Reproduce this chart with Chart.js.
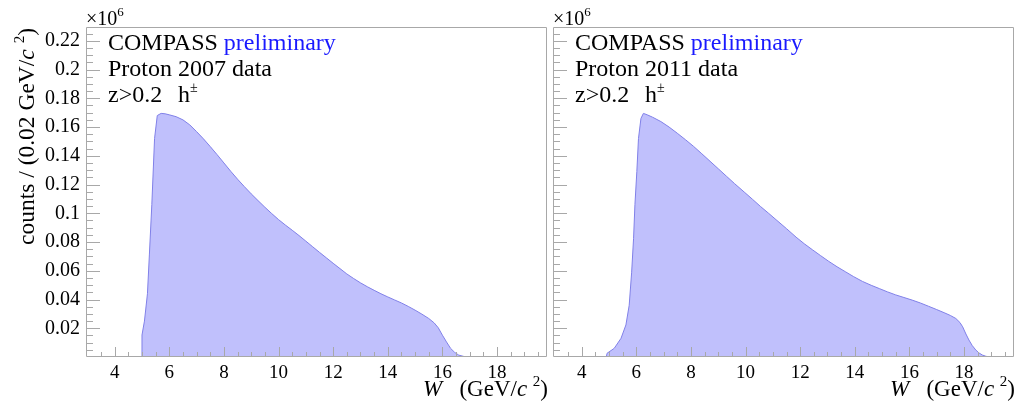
<!DOCTYPE html>
<html>
<head>
<meta charset="utf-8">
<script src="https://cdn.jsdelivr.net/npm/chart.js@4.4.1/dist/chart.umd.min.js"></script>
<style>
  html, body { margin: 0; padding: 0; background: #ffffff; }
  #wrap { position: relative; width: 1019px; height: 410px; }
  canvas { position: absolute; top: 0; }
  #c2007 { left: 0; }
  #c2011 { left: 550px; }
</style>
</head>
<body>
<div id="wrap">
  <canvas id="c2007" width="550" height="410"></canvas>
  <canvas id="c2011" width="469" height="410"></canvas>
</div>
<script>
// W (GeV/c^2) and counts per 0.02 GeV/c^2 bin, in units of 10^6
const w2007 = [4.98, 5.0, 5.09, 5.2, 5.27, 5.36, 5.46, 5.56, 5.7, 5.85, 6.0, 6.25, 6.5, 6.75,
  7.0, 7.25, 7.5, 7.75, 8.0, 8.25, 8.5, 8.75, 9.0, 9.25, 9.5, 9.75, 10.0, 10.25, 10.5, 10.75,
  11.0, 11.25, 11.5, 11.75, 12.0, 12.25, 12.5, 12.75, 13.0, 13.25, 13.5, 13.75, 14.0, 14.25,
  14.5, 14.75, 15.0, 15.25, 15.5, 15.7, 15.85, 16.0, 16.15, 16.3, 16.45, 16.6, 16.8, 17.0];
const counts2007 = [0.0, 0.0153, 0.025, 0.044, 0.071, 0.106, 0.152, 0.168, 0.1695, 0.1692, 0.1685, 0.1672, 0.1650, 0.1615,
  0.1568, 0.1518, 0.1464, 0.1408, 0.1350, 0.1292, 0.1237, 0.1185, 0.1135, 0.1088, 0.1042, 0.0998, 0.0956, 0.0918, 0.0882, 0.0845,
  0.0806, 0.0767, 0.0728, 0.0690, 0.0652, 0.0615, 0.0578, 0.0546, 0.0516, 0.0489, 0.0464, 0.0440, 0.0418, 0.0397,
  0.0376, 0.0352, 0.0326, 0.0298, 0.0268, 0.0237, 0.0203, 0.0152, 0.0105, 0.0060, 0.0032, 0.0013, 0.0003, 0.0];

const w2011 = [4.9, 4.93, 5.19, 5.44, 5.62, 5.74, 5.83, 5.90, 5.95, 6.02, 6.08, 6.17, 6.26, 6.4, 6.6, 6.9,
  7.2, 7.5, 7.8, 8.1, 8.4, 8.7, 9.0, 9.3, 9.6, 9.95, 10.25, 10.55, 10.85, 11.15, 11.5, 11.85,
  12.15, 12.45, 12.75, 13.05, 13.35, 13.65, 13.95, 14.28, 14.6, 14.9, 15.2, 15.5, 15.8, 16.1,
  16.4, 16.7, 17.0, 17.3, 17.5, 17.7, 17.85, 17.95, 18.07, 18.18, 18.3, 18.43, 18.55, 18.67, 18.8, 18.95];
const counts2011 = [0.0, 0.0026, 0.006, 0.013, 0.0223, 0.036, 0.059, 0.0826, 0.106, 0.129, 0.152, 0.166, 0.1695, 0.1685, 0.1668, 0.1638,
  0.1600, 0.1557, 0.1512, 0.1465, 0.1414, 0.1362, 0.1310, 0.1258, 0.1206, 0.1148, 0.1098, 0.1047, 0.0999, 0.0950, 0.0893, 0.0834,
  0.0788, 0.0746, 0.0705, 0.0665, 0.0628, 0.0594, 0.0560, 0.0526, 0.0499, 0.0476, 0.0453, 0.0432, 0.0414, 0.0396,
  0.0376, 0.0353, 0.0330, 0.0306, 0.0289, 0.0268, 0.0240, 0.0210, 0.0160, 0.0118, 0.0080, 0.0049, 0.0028, 0.0014, 0.0005, 0.0];

const xTickValues = [4, 6, 8, 10, 12, 14, 16, 18];
const xTickLabels = ['4', '6', '8', '10', '12', '14', '16', '18'];
const yTickValues = [0.02, 0.04, 0.06, 0.08, 0.1, 0.12, 0.14, 0.16, 0.18, 0.2, 0.22];
const yTickLabels = ['0.02', '0.04', '0.06', '0.08', '0.1', '0.12', '0.14', '0.16', '0.18', '0.2', '0.22'];

const X_MIN = 2.95, X_MAX = 19.83;
const Y_MIN = 0, Y_MAX = 0.2296;

const SERIF = '"Liberation Serif", "Times New Roman", serif';
const FILL = 'rgb(192, 192, 252)';
const EDGE = 'rgb(128, 128, 232)';
const AXIS = '#a8a8a8';
const BLUE = '#1a1aff';

// draw a row of text runs (plain / italic / superscript), left or right aligned
function drawRuns(ctx, runs, x, y, align, baseSize) {
  const parts = runs.map(r => {
    const size = r.size || (r.sup ? 14 : baseSize);
    const font = (r.italic ? 'italic ' : '') + size + 'px ' + SERIF;
    ctx.font = font;
    return { r, font, w: ctx.measureText(r.t).width };
  });
  const total = parts.reduce((s, p) => s + p.w, 0);
  let cx = align === 'right' ? x - total : x;
  ctx.textAlign = 'left';
  ctx.textBaseline = 'alphabetic';
  for (const p of parts) {
    ctx.font = p.font;
    ctx.fillStyle = p.r.color || '#000';
    ctx.fillText(p.r.t, cx, y - (p.r.sup ? (p.r.raise || 10) : 0));
    cx += p.w;
  }
}

const decor = {
  id: 'decor',
  afterDraw(chart, args, opts) {
    const { ctx, chartArea: a, scales } = chart;
    const xs = scales.x, ys = scales.y;
    ctx.save();
    ctx.strokeStyle = AXIS;
    ctx.lineWidth = 1;
    // frame
    ctx.beginPath();
    ctx.moveTo(a.left + 0.5, a.top + 0.5);
    ctx.lineTo(a.right - 0.5, a.top + 0.5);
    ctx.lineTo(a.right - 0.5, a.bottom - 0.5);
    ctx.lineTo(a.left + 0.5, a.bottom - 0.5);
    ctx.closePath();
    ctx.stroke();
    // x ticks every 0.5, longer on the labelled values
    ctx.beginPath();
    for (let k = 7; k <= 39; k++) {
      const v = k / 2;
      const px = Math.round(xs.getPixelForValue(v)) + 0.5;
      const len = (k % 4 === 0) ? 10 : 5;
      ctx.moveTo(px, a.bottom);
      ctx.lineTo(px, a.bottom - len);
    }
    // y ticks every 0.005, longer on the labelled values
    for (let k = 1; k <= 45; k++) {
      const v = k * 0.005;
      const py = Math.round(ys.getPixelForValue(v)) + 0.5;
      const len = (k % 4 === 0) ? 14 : 7;
      ctx.moveTo(a.left, py);
      ctx.lineTo(a.left + len, py);
    }
    ctx.stroke();

    // exponent above the y axis
    drawRuns(ctx, [{ t: '\u00d710' }, { t: '6', sup: true, size: 13, raise: 9 }], a.left, 25, 'left', 20);

    // labels inside the frame
    const tx = a.left + 22;
    drawRuns(ctx, [{ t: 'COMPASS ' }, { t: 'preliminary', color: BLUE }], tx, 50, 'left', 24);
    drawRuns(ctx, [{ t: opts.dataLabel }], tx, 76, 'left', 24);
    drawRuns(ctx, [{ t: 'z>0.2' }], tx, 102, 'left', 24);
    drawRuns(ctx, [{ t: 'h' }, { t: '\u00b1', sup: true, size: 14, raise: 10 }], tx + 70, 102, 'left', 24);

    // x title
    drawRuns(ctx, [{ t: 'W', italic: true }, { t: '   (GeV/' }, { t: 'c', italic: true },
      { t: ' ' }, { t: '2', sup: true, size: 15, raise: 10 }, { t: ')' }], a.right + 1, 396, 'right', 23);

    // y title
    if (opts.yTitle) {
      ctx.save();
      ctx.translate(34, 28);
      ctx.rotate(-Math.PI / 2);
      drawRuns(ctx, [{ t: 'counts / (0.02 GeV/' }, { t: 'c', italic: true }, { t: ' ' },
        { t: '2', sup: true, size: 15, raise: 10 }, { t: ')' }], 0, 0, 'right', 23.5);
      ctx.restore();
    }
    ctx.restore();
  }
};

function makeChart(id, wVals, cVals, cfg) {
  const pts = wVals.map((w, i) => ({ x: w, y: cVals[i] }));
  return new Chart(document.getElementById(id), {
    type: 'line',
    data: {
      datasets: [{
        data: pts,
        fill: 'origin',
        backgroundColor: FILL,
        borderColor: EDGE,
        borderWidth: 1,
        pointRadius: 0,
        tension: 0
      }]
    },
    options: {
      responsive: false,
      animation: false,
      events: [],
      layout: { padding: { top: 27, right: cfg.padRight, left: 0, bottom: 0 } },
      plugins: {
        legend: { display: false },
        tooltip: { enabled: false },
        decor: { dataLabel: cfg.dataLabel, yTitle: cfg.yTitle }
      },
      scales: {
        x: {
          type: 'linear', min: X_MIN, max: X_MAX,
          afterFit(s) { s.height = 53; },
          afterBuildTicks(s) { s.ticks = xTickValues.map(v => ({ value: v })); },
          ticks: {
            callback: v => xTickLabels[xTickValues.indexOf(v)],
            font: { family: SERIF, size: 19 }, color: '#000',
            padding: 5, maxRotation: 0, autoSkip: false
          },
          grid: { display: false, drawTicks: false },
          border: { display: false }
        },
        y: {
          type: 'linear', min: Y_MIN, max: Y_MAX,
          afterFit(s) { s.width = cfg.yWidth; },
          afterBuildTicks(s) { s.ticks = yTickValues.map(v => ({ value: v })); },
          ticks: {
            display: cfg.yLabels,
            callback: v => yTickLabels[yTickValues.indexOf(v)],
            font: { family: SERIF, size: 20 }, color: '#000',
            padding: 6, autoSkip: false
          },
          grid: { display: false, drawTicks: false },
          border: { display: false }
        }
      }
    },
    plugins: [decor]
  });
}

makeChart('c2007', w2007, counts2007, { padRight: 3, yWidth: 86, yLabels: true, yTitle: true, dataLabel: 'Proton 2007 data' });
makeChart('c2011', w2011, counts2011, { padRight: 5, yWidth: 3, yLabels: false, yTitle: false, dataLabel: 'Proton 2011 data' });
</script>
</body>
</html>
